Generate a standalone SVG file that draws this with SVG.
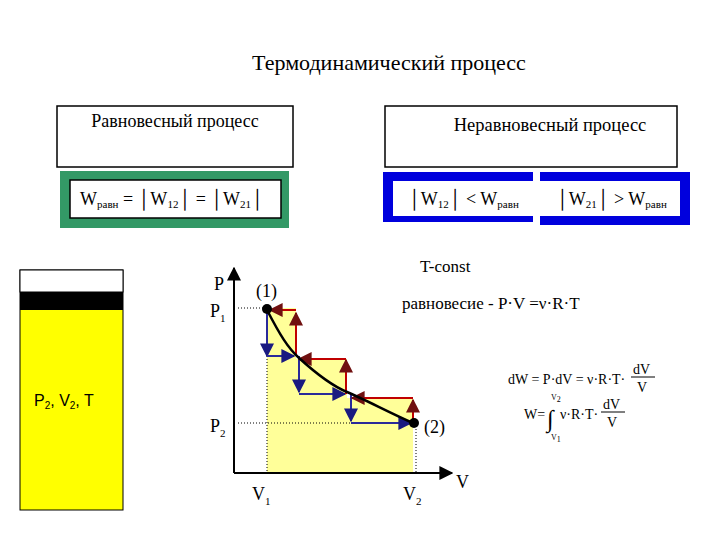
<svg xmlns="http://www.w3.org/2000/svg" width="720" height="540" viewBox="0 0 720 540">
<style>
text{font-family:"Liberation Serif",serif;fill:#000}
.b{fill:#fff;stroke:#000;stroke-width:1.5}
.bl{stroke:#2a2a9a;stroke-width:2;fill:none}
.rd{stroke:#c00000;stroke-width:2;fill:none}
.dot{stroke:#000;stroke-width:1;stroke-dasharray:1,2;fill:none}
</style>
<defs>
<marker id="ab" viewBox="0 0 10 10" refX="9" refY="5" markerWidth="7" markerHeight="7" orient="auto"><path d="M0,0L10,5L0,10z" fill="#1a1a80"/></marker>
<marker id="ar" viewBox="0 0 10 10" refX="9" refY="5" markerWidth="7" markerHeight="7" orient="auto"><path d="M0,0L10,5L0,10z" fill="#701010"/></marker>
<marker id="ak" viewBox="0 0 10 10" refX="9" refY="5" markerWidth="7" markerHeight="7" orient="auto"><path d="M0,0L10,5L0,10z" fill="#000"/></marker>
</defs>
<rect width="720" height="540" fill="#fff"/>
<text x="389" y="70" font-size="22" text-anchor="middle">Термодинамический процесс</text>
<g id="eq">
<rect class="b" x="57" y="106" width="236" height="61"/>
<text x="175" y="127" font-size="18" text-anchor="middle">Равновесный процесс</text>
<rect x="60" y="171" width="229" height="57" fill="#339966"/>
<rect class="b" x="70" y="180" width="211" height="38"/>
<text x="80" y="205" font-size="18">W<tspan font-size="11" dy="3">равн</tspan><tspan dy="-3"> = │W</tspan><tspan font-size="11" dy="3">12</tspan><tspan dy="-3">│ = │W</tspan><tspan font-size="11" dy="3">21</tspan><tspan dy="-3">│</tspan></text>
</g>
<g id="neq">
<rect class="b" x="385" y="106" width="292" height="61"/>
<text x="550" y="131" font-size="18.5" text-anchor="middle">Неравновесный процесс</text>
<rect x="383" y="172" width="150" height="50" fill="#0000dd"/>
<rect x="540" y="172" width="150" height="53" fill="#0000dd"/>
<rect x="393" y="181" width="287" height="35" fill="#fff"/>
<text x="408" y="205" font-size="18">│W<tspan font-size="11" dy="3">12</tspan><tspan dy="-3">│ &lt; W</tspan><tspan font-size="11" dy="3">равн</tspan></text>
<text x="556" y="205" font-size="18">│W<tspan font-size="11" dy="3">21</tspan><tspan dy="-3">│ &gt; W</tspan><tspan font-size="11" dy="3">равн</tspan></text>
</g>
<g id="piston">
<rect x="20" y="270" width="103" height="240" fill="#ffff00" stroke="#000"/>
<rect x="20" y="270" width="103" height="22" fill="#fff" stroke="#000"/>
<rect x="20" y="292" width="103" height="18" fill="#000"/>
<text x="34" y="406" style="font-family:'Liberation Sans',sans-serif;font-size:16px">P<tspan font-size="10" dy="3">2</tspan><tspan dy="-3">, V</tspan><tspan font-size="10" dy="3">2</tspan><tspan dy="-3">, T</tspan></text>
</g>
<g id="graph">
<polygon points="267,308 296,308 296,359 347,359 347,398 413,398 413,473 267,473" fill="#ffff99"/>
<path class="dot" d="M238,308H266M238,423H413M267,308V473M416,423V473"/>
<line x1="234" y1="473" x2="234" y2="268" stroke="#000" stroke-width="2" marker-end="url(#ak)"/>
<line x1="234" y1="473" x2="452" y2="473" stroke="#000" stroke-width="2" marker-end="url(#ak)"/>
<text x="214" y="290" font-size="18">P</text>
<text x="210" y="317" font-size="18">P<tspan font-size="11" dy="5">1</tspan></text>
<text x="210" y="432" font-size="18">P<tspan font-size="11" dy="5">2</tspan></text>
<text x="252" y="500" font-size="18">V<tspan font-size="11" dy="5">1</tspan></text>
<text x="403" y="500" font-size="18">V<tspan font-size="11" dy="5">2</tspan></text>
<text x="456" y="488" font-size="18">V</text>
<text x="256" y="297" font-size="18">(1)</text>
<text x="424" y="433" font-size="18">(2)</text>
<g id="connectors">
<path class="bl" d="M267,308V356" marker-end="url(#ab)"/>
<path class="bl" d="M267,356H294" marker-end="url(#ab)"/>
<path class="bl" d="M299,356V392" marker-end="url(#ab)"/>
<path class="bl" d="M299,394H345" marker-end="url(#ab)"/>
<path class="bl" d="M351,394V421" marker-end="url(#ab)"/>
<path class="bl" d="M351,423H411" marker-end="url(#ab)"/>
<path class="rd" d="M296,356V313" marker-end="url(#ar)"/>
<path class="rd" d="M296,310H270" marker-end="url(#ar)"/>
<path class="rd" d="M346,394V360" marker-end="url(#ar)"/>
<path class="rd" d="M346,359H299" marker-end="url(#ar)"/>
<path class="rd" d="M413,424V400" marker-end="url(#ar)"/>
<path class="rd" d="M413,398H352" marker-end="url(#ar)"/>
<path d="M267,310C280,335 288,348 299,358S330,385 347,392S390,413 413,423" fill="none" stroke="#000" stroke-width="2.5"/>
</g>
<circle cx="267" cy="309" r="5" fill="#000"/>
<circle cx="414" cy="423" r="5" fill="#000"/>
</g>
<text x="420" y="272" font-size="17">T-const</text>
<text x="402" y="309" font-size="17">равновесие  - P·V =ν·R·T</text>
<g id="formulas">
<text x="508" y="384" font-size="14">dW = P·dV = ν·R·T·</text>
<text x="633" y="374" font-size="14">dV</text>
<line x1="631" y1="377" x2="655" y2="377" stroke="#000"/>
<text x="637" y="392" font-size="14">V</text>
<text x="524" y="419" font-size="14">W=</text>
<text x="547" y="427" font-size="24">∫</text>
<text x="551" y="400" font-size="8">V<tspan dy="2">2</tspan></text>
<text x="551" y="440" font-size="8">V<tspan dy="2">1</tspan></text>
<text x="560" y="419" font-size="14">ν·R·T·</text>
<text x="603" y="409" font-size="14">dV</text>
<line x1="601" y1="412" x2="625" y2="412" stroke="#000"/>
<text x="607" y="427" font-size="14">V</text>
</g>
</svg>
